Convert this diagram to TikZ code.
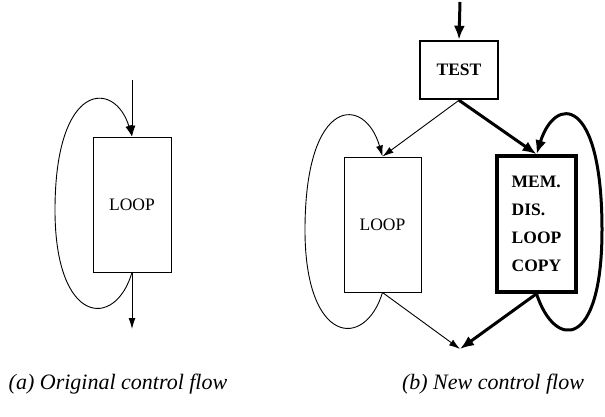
\documentclass[tikz,border=0pt]{standalone}
\usepackage{fontspec}
\setmainfont{Liberation Serif}
\usetikzlibrary{arrows.meta}
\begin{document}
\begin{tikzpicture}[x=1pt,y=-1pt,
  thinbox/.style={draw,line width=1pt,inner sep=0pt,font=\fontsize{17.5}{20}\selectfont},
  boldbox/.style={draw,inner sep=0pt,font=\fontsize{17.5}{20}\selectfont\bfseries},
  thinarrow/.style={line width=0.9pt,-{Latex[length=11pt,width=7pt]}},
  thickarrow/.style={line width=3pt,-{Latex[length=14pt,width=11pt]}},
  caption/.style={font=\fontsize{22}{26}\selectfont\itshape}]
\useasboundingbox (0,0) rectangle (605,416);

% (a) original control flow
\node[thinbox,minimum width=78pt,minimum height=135pt] (la) at (132,204.5) {LOOP};
\coordinate (ain) at (132,80);
\coordinate (aout) at (132,329);
\draw[thinarrow] (ain) -- (la.north);
\draw[thinarrow] (la.south) -- (aout);
\draw[thinarrow] (la.south) .. controls (115,330) and (55,325) .. (55,210)
  .. controls (55,80) and (115,80) .. (la.north);

% (b) new control flow
\node[boldbox,line width=2.5pt,minimum width=78pt,minimum height=58pt] (test) at (459,70) {TEST};
\node[thinbox,minimum width=77pt,minimum height=135pt] (lb) at (382.5,224.5) {LOOP};
\node[boldbox,line width=3.5pt,minimum width=79pt,minimum height=136pt,align=left,
  font=\fontsize{17.5}{28}\selectfont\bfseries] (rb) at (536.5,224) {MEM.\\DIS.\\LOOP\\COPY};
\coordinate (bin) at (460,2);
\coordinate (join) at (460,349);

\draw[thickarrow] (bin) -- (test.north);
\draw[thinarrow] (test.south) -- (lb.north);
\draw[thickarrow] (test.south) -- (rb.north);
\draw[thinarrow] (lb.south) -- (join);
\draw[thickarrow] (rb.south) -- (join);
\draw[thinarrow] (lb.south) .. controls (365,350) and (305,345) .. (305,230)
  .. controls (305,95) and (365,95) .. (lb.north);
\draw[thickarrow] (rb.south) .. controls (555,350) and (602,350) .. (602,230)
  .. controls (602,95) and (555,95) .. (rb.north);

% captions
\node[caption] (capa) at (118,384) {(a) Original control flow};
\node[caption] (capb) at (493,384) {(b) New control flow};
\end{tikzpicture}
\end{document}
